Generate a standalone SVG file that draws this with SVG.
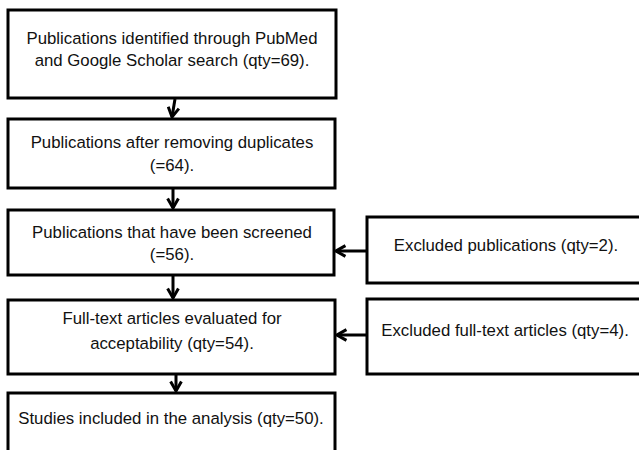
<svg xmlns="http://www.w3.org/2000/svg" width="639" height="450" viewBox="0 0 639 450">
<defs>
<style>
.box{fill:#fff;stroke:#000;stroke-width:3}
.t{font-family:"Liberation Sans",Arial,sans-serif;font-size:16.8px;fill:#111;text-anchor:middle}
.c{stroke:#000;stroke-width:3;fill:none}
</style>
<marker id="ah" viewBox="0 0 10 10" refX="9" refY="5" markerWidth="4.5" markerHeight="4.5" orient="auto" markerUnits="strokeWidth">
<polyline points="2,1 9,5 2,9" fill="none" stroke="#000" stroke-width="2.2"/>
</marker>
</defs>
<rect width="639" height="450" fill="#fff"/>
<g id="n1"><rect class="box" x="8" y="10" width="328" height="88"/>
<text class="t" x="172" y="44">Publications identified through PubMed</text>
<text class="t" x="172" y="66">and Google Scholar search (qty=69).</text></g>
<g id="n2"><rect class="box" x="8" y="119" width="327" height="69"/>
<text class="t" x="172" y="148">Publications after removing duplicates</text>
<text class="t" x="172" y="171">(=64).</text></g>
<g id="n3"><rect class="box" x="8" y="210" width="326" height="65"/>
<text class="t" x="172" y="238">Publications that have been screened</text>
<text class="t" x="172" y="260">(=56).</text></g>
<g id="n4"><rect class="box" x="8" y="300" width="327" height="74"/>
<text class="t" x="172" y="324">Full-text articles evaluated for</text>
<text class="t" x="172" y="349">acceptability (qty=54).</text></g>
<g id="n5"><rect class="box" x="8" y="393" width="327" height="70"/>
<text class="t" x="171" y="424">Studies included in the analysis (qty=50).</text></g>
<g id="nA"><rect class="box" x="367" y="217" width="276" height="66"/>
<text class="t" x="506" y="251">Excluded publications (qty=2).</text></g>
<g id="nB"><rect class="box" x="367" y="299" width="276" height="75"/>
<text class="t" x="505" y="336">Excluded full-text articles (qty=4).</text></g>
<g id="connectors">
<line class="c" x1="175" y1="99" x2="172" y2="117" marker-end="url(#ah)"/>
<line class="c" x1="173" y1="189" x2="173" y2="208" marker-end="url(#ah)"/>
<line class="c" x1="173" y1="276" x2="173" y2="298" marker-end="url(#ah)"/>
<line class="c" x1="176" y1="375" x2="176" y2="391" marker-end="url(#ah)"/>
<line class="c" x1="366" y1="251" x2="336" y2="251" marker-end="url(#ah)"/>
<line class="c" x1="366" y1="335" x2="337" y2="335" marker-end="url(#ah)"/>
</g>
</svg>
